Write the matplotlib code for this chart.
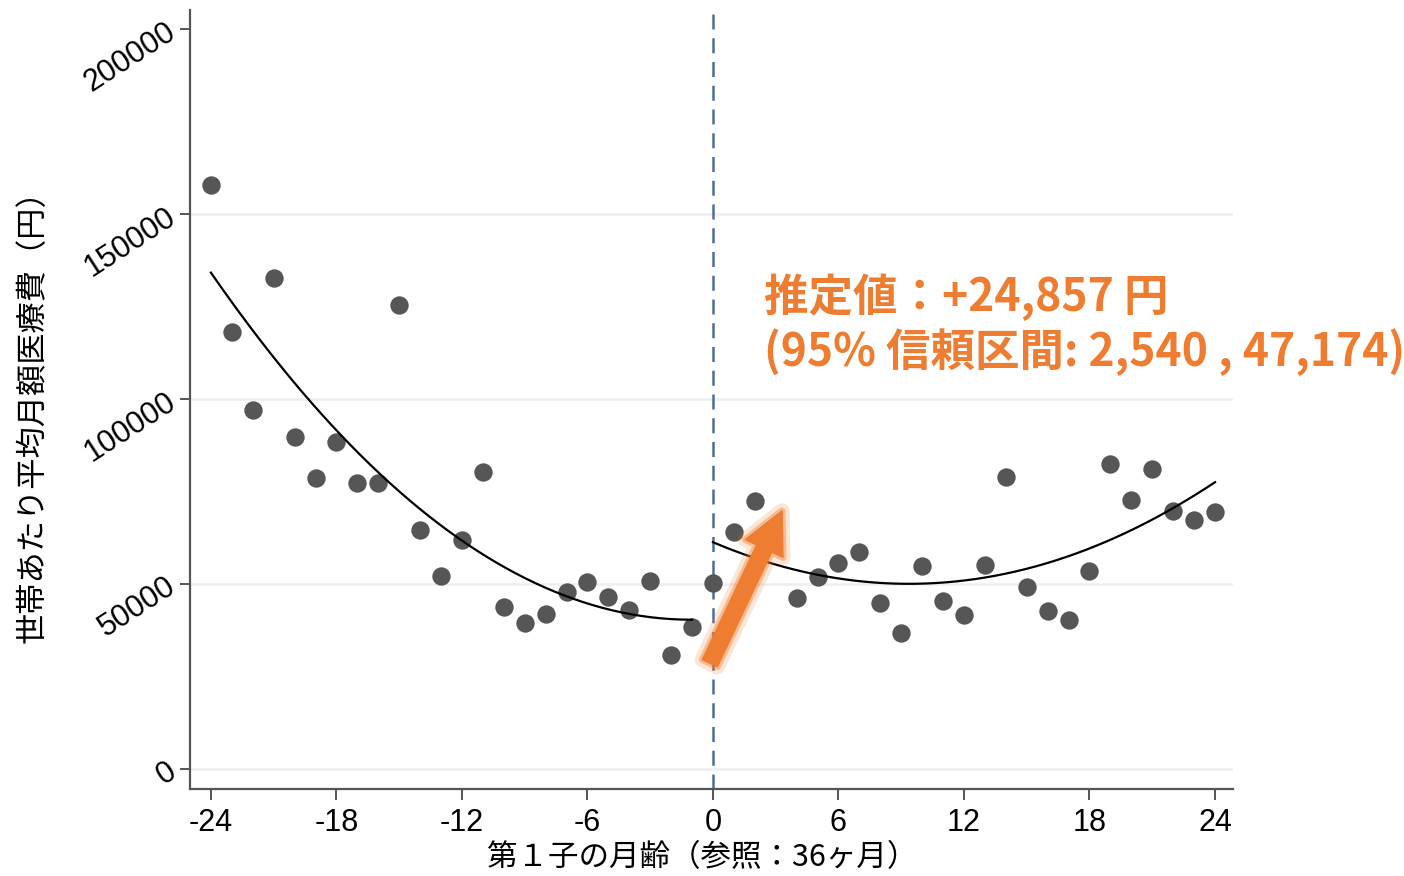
import numpy as np
import matplotlib
matplotlib.use("Agg")
import matplotlib.pyplot as plt
import matplotlib.patheffects as pe

# ---- data ----
months_pre = [-24, -23, -22, -21, -20, -19, -18, -17, -16, -15, -14, -13,
              -12, -11, -10, -9, -8, -7, -6, -5, -4, -3, -2, -1]
cost_pre = [158000, 118100, 97000, 132700, 89700, 78700, 88400, 77300, 77300,
            125400, 64600, 52200, 61900, 80300, 43800, 39500, 41900, 47800,
            50500, 46500, 43000, 50800, 30800, 38400]
months_post = [0, 1, 2, 4, 5, 6, 7, 8, 9, 10, 11, 12, 13, 14, 15, 16, 17,
               18, 19, 20, 21, 22, 23, 24]
cost_post = [50300, 64100, 72400, 46200, 51900, 55700, 58700, 44900, 36800,
             54900, 45400, 41600, 55100, 79000, 49200, 42700, 40300, 53500,
             82400, 72700, 81100, 69800, 67300, 69500]
x_ticks = [-24, -18, -12, -6, 0, 6, 12, 18, 24]
y_ticks = [0, 50000, 100000, 150000, 200000]
xlabel = "第１子の月齢（参照：36ヶ月）"
ylabel = "世帯あたり平均月額医療費（円）"
note1 = "推定値：+24,857 円"
note2 = "(95% 信頼区間: 2,540 , 47,174)"

plt.rcParams['font.family'] = ['Noto Sans CJK JP', 'DejaVu Sans']

fig = plt.figure(figsize=(14.04, 8.76), dpi=100)
ax = fig.add_axes([190/1404, 1 - 789/876, (1233-190)/1404, (789-10)/876])

ax.set_xlim(-25.0, 24.86)
ax.set_ylim(-5400, 205200)

for yv in y_ticks[:-1]:
    ax.axhline(yv, color='#eeeeee', lw=1.8, zorder=0)

ax.axvline(0, color='#4f6f92', lw=1.8, ls=(0, (6, 3.5)), zorder=1)

ax.scatter(months_pre, cost_pre, s=175, color='#565656', zorder=3, linewidths=0)
ax.scatter(months_post, cost_post, s=175, color='#565656', zorder=3, linewidths=0)

cp = np.polyfit(months_pre, cost_pre, 2)
xs = np.linspace(months_pre[0], months_pre[-1], 200)
ax.plot(xs, np.polyval(cp, xs), color='black', lw=1.6, zorder=4)
cq = np.polyfit(months_post, cost_post, 2)
xs2 = np.linspace(months_post[0], months_post[-1], 200)
ax.plot(xs2, np.polyval(cq, xs2), color='black', lw=1.6, zorder=4)

orange = '#ee7d31'
ax.annotate('', xy=(3.3, 69800), xytext=(-0.15, 28600),
            arrowprops=dict(arrowstyle='simple,head_length=1.5,head_width=1.5,tail_width=0.6',
                            mutation_scale=20, color=orange, shrinkA=0, shrinkB=0,
                            path_effects=[pe.Stroke(linewidth=11, foreground=orange, alpha=0.2),
                                          pe.Stroke(linewidth=5, foreground=orange, alpha=0.4),
                                          pe.Normal()]),
            zorder=5)

ax.text(2.44, 127600, note1, color=orange, fontsize=32, fontweight='bold',
        ha='left', va='center', zorder=6)
ax.text(2.44, 112700, note2, color=orange, fontsize=32, fontweight='bold',
        ha='left', va='center', zorder=6)

for s in ['top', 'right']:
    ax.spines[s].set_visible(False)
for s in ['left', 'bottom']:
    ax.spines[s].set_color('#555555')
    ax.spines[s].set_linewidth(1.6)

ax.set_xticks(x_ticks)
ax.set_xticklabels([str(v) for v in x_ticks], fontsize=22,
                   family=['Liberation Sans', 'DejaVu Sans'])
ax.set_yticks(y_ticks)
ax.set_yticklabels([str(v) for v in y_ticks], fontsize=22, rotation=33,
                   rotation_mode='anchor', ha='right', va='center',
                   family=['Liberation Sans', 'DejaVu Sans'])
ax.tick_params(axis='x', length=8, width=1.4, color='#555555', pad=6)
ax.tick_params(axis='y', length=7, width=1.4, color='#555555', pad=5)

ax.set_xlabel(xlabel, fontsize=22)
ax.xaxis.set_label_coords((702 - 190) / 1043, (789 - 842) / 779)
ax.set_ylabel(ylabel, fontsize=22.5)
ax.yaxis.set_label_coords((49 - 190) / 1043, (789 - 409) / 779)

fig.savefig('out.png', dpi=100)
